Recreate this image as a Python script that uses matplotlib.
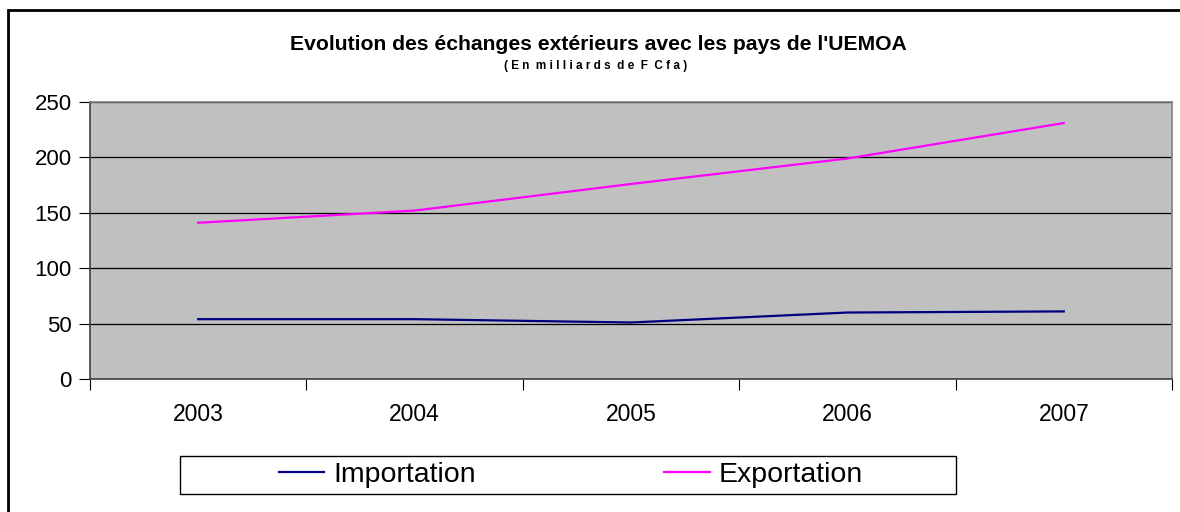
import matplotlib
matplotlib.use("Agg")
import matplotlib.pyplot as plt
from matplotlib.patches import Rectangle

plt.rcParams['font.family'] = ['Liberation Sans', 'DejaVu Sans']

years = ['2003', '2004', '2005', '2006', '2007']
importation = [54, 54, 51, 60, 61]
exportation = [141, 152, 176, 199, 231]

W, H = 1180, 512
fig = plt.figure(figsize=(W / 100, H / 100), dpi=100)

# outer chart frame
fig.patches.append(Rectangle((8 / W, -0.01), 1.1, 1 - 10 / H + 0.01,
                             transform=fig.transFigure, fill=False,
                             edgecolor='black', linewidth=2))

ax = fig.add_axes([90 / W, 1 - 379 / H, (1172 - 90) / W, (379 - 102) / H])
ax.set_facecolor('#c0c0c0')

x = list(range(len(years)))
ax.plot(x, importation, color='#000080', lw=1.6, label='Importation')
ax.plot(x, exportation, color='#ff00ff', lw=1.6, label='Exportation')

ax.set_xlim(-0.5, len(years) - 0.5)
ax.set_ylim(0, 250)
ax.set_yticks(range(0, 251, 50))
ax.yaxis.grid(True, color='black', lw=0.9)
ax.set_axisbelow(True)

ax.set_xticks([i - 0.5 for i in range(len(years) + 1)])
ax.set_xticklabels([])
ax.set_xticks(x, minor=True)
ax.set_xticklabels(years, minor=True, fontsize=16.5)
ax.tick_params(axis='x', which='minor', length=0, pad=17)
ax.tick_params(axis='x', which='major', length=8, direction='out', color='black')
ax.tick_params(axis='y', length=8, direction='out', labelsize=16, pad=5)

for s in ['top', 'right']:
    ax.spines[s].set_color('#808080')
    ax.spines[s].set_linewidth(1.2)
for s in ['left', 'bottom']:
    ax.spines[s].set_color('#404040')
    ax.spines[s].set_linewidth(1.2)

fig.text(598 / W, 1 - 44 / H, "Evolution des échanges extérieurs avec les pays de l'UEMOA",
         ha='center', va='center', fontsize=15.2, fontweight='bold')
fig.text(596 / W, 1 - 66 / H, "( E n  m i l l i a r d s  d e  F  C f a )",
         ha='center', va='center', fontsize=8.5, fontweight='bold')

# legend box
fig.patches.append(Rectangle((180 / W, 1 - 494 / H), (956 - 180) / W, 38 / H,
                             transform=fig.transFigure, fill=False,
                             edgecolor='black', linewidth=1.0))
leg = fig.legend(loc='center', bbox_to_anchor=(571 / W, 1 - 475 / H),
                 ncol=2, fontsize=20.5, frameon=False,
                 handlelength=1.6, handletextpad=0.32,
                 columnspacing=6.6, borderpad=0.0)

fig.savefig('out.png', dpi=100)
